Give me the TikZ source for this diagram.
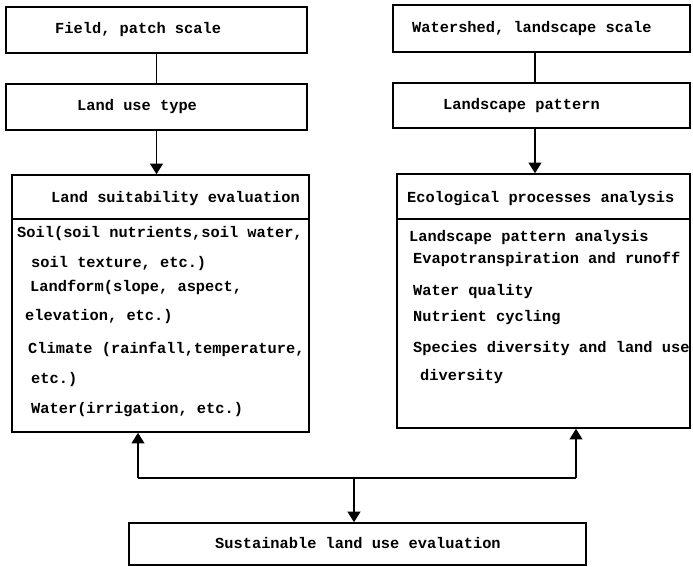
\documentclass[tikz,border=0pt]{standalone}
\usepackage{fontspec}
\setmainfont{Liberation Mono}
\usetikzlibrary{arrows.meta}

\begin{document}
\begin{tikzpicture}[x=0.03cm,y=-0.03cm,
   box/.style={draw,line width=1.4pt,inner sep=0pt},
   txt/.style={anchor=mid west,inner sep=0pt,font=\bfseries\fontsize{13.1}{15}\selectfont},
   conn/.style={line width=1pt},
   arr/.style={line width=1pt,-{Triangle[length=9pt,width=11pt]}}]
   \useasboundingbox (0,0) rectangle (693,567);
   \node[box,minimum width=9.03cm,minimum height=1.38cm] (field) at (156.5,30) {};
   \node[box,minimum width=9.03cm,minimum height=1.38cm] (landuse) at (156.5,107) {};
   \node[box,minimum width=8.91cm,minimum height=1.41cm] (watershed) at (541.5,28.5) {};
   \node[box,minimum width=8.91cm,minimum height=1.35cm] (pattern) at (541.5,105.5) {};
   \node[box,minimum width=8.91cm,minimum height=1.32cm] (suithead) at (160.5,197) {};
   \node[box,minimum width=8.91cm,minimum height=6.39cm] (suitbody) at (160.5,325.5) {};
   \node[box,minimum width=8.79cm,minimum height=1.35cm] (ecohead) at (543.5,196.5) {};
   \node[box,minimum width=8.79cm,minimum height=6.27cm] (ecobody) at (543.5,323.5) {};
   \node[box,minimum width=13.71cm,minimum height=1.26cm] (eval) at (357.5,544) {};

   \node[txt] (fieldt) at (55,30) {Field, patch scale};
   \node[txt] (landuset) at (77,107) {Land use type};
   \node[txt] (watershedt) at (412,29) {Watershed, landscape scale};
   \node[txt] (patternt) at (443,106) {Landscape pattern};
   \node[txt] (suitheadt) at (51,199) {Land suitability evaluation};
   \node[txt] (suit1) at (17,234) {Soil(soil nutrients,soil water,};
   \node[txt] (suit2) at (31,264) {soil texture, etc.)};
   \node[txt] (suit3) at (30,288) {Landform(slope, aspect,};
   \node[txt] (suit4) at (25,317) {elevation, etc.)};
   \node[txt] (suit5) at (28,350) {Climate (rainfall,temperature,};
   \node[txt] (suit6) at (31,380) {etc.)};
   \node[txt] (suit7) at (31,410) {Water(irrigation, etc.)};
   \node[txt] (ecoheadt) at (407,199) {Ecological processes analysis};
   \node[txt] (eco1) at (409,238) {Landscape pattern analysis};
   \node[txt] (eco2) at (413,260) {Evapotranspiration and runoff};
   \node[txt] (eco3) at (413,292) {Water quality};
   \node[txt] (eco4) at (413,318) {Nutrient cycling};
   \node[txt] (eco5) at (413,349) {Species diversity and land use};
   \node[txt] (eco6) at (420,377) {diversity};
   \node[txt] (evalt) at (215,545) {Sustainable land use evaluation};

   \draw[conn] (field) -- (landuse);
   \draw[arr] (landuse.south) -- (landuse.south |- suithead.north);
   \draw[conn] (watershed.south -| 535,0) -- (pattern.north -| 535,0);
   \draw[arr] (pattern.south -| 535,0) -- (ecohead.north -| 535,0);
   \coordinate (join) at (354,478);
   \coordinate (jl) at (138,478);
   \coordinate (jr) at (576,478);
   \draw[conn] (jl) -- (jr);
   \draw[arr] (jl) -- (jl |- suitbody.south);
   \draw[arr] (jr) -- (jr |- ecobody.south);
   \draw[arr] (join) -- (join |- eval.north);
\end{tikzpicture}
\end{document}
